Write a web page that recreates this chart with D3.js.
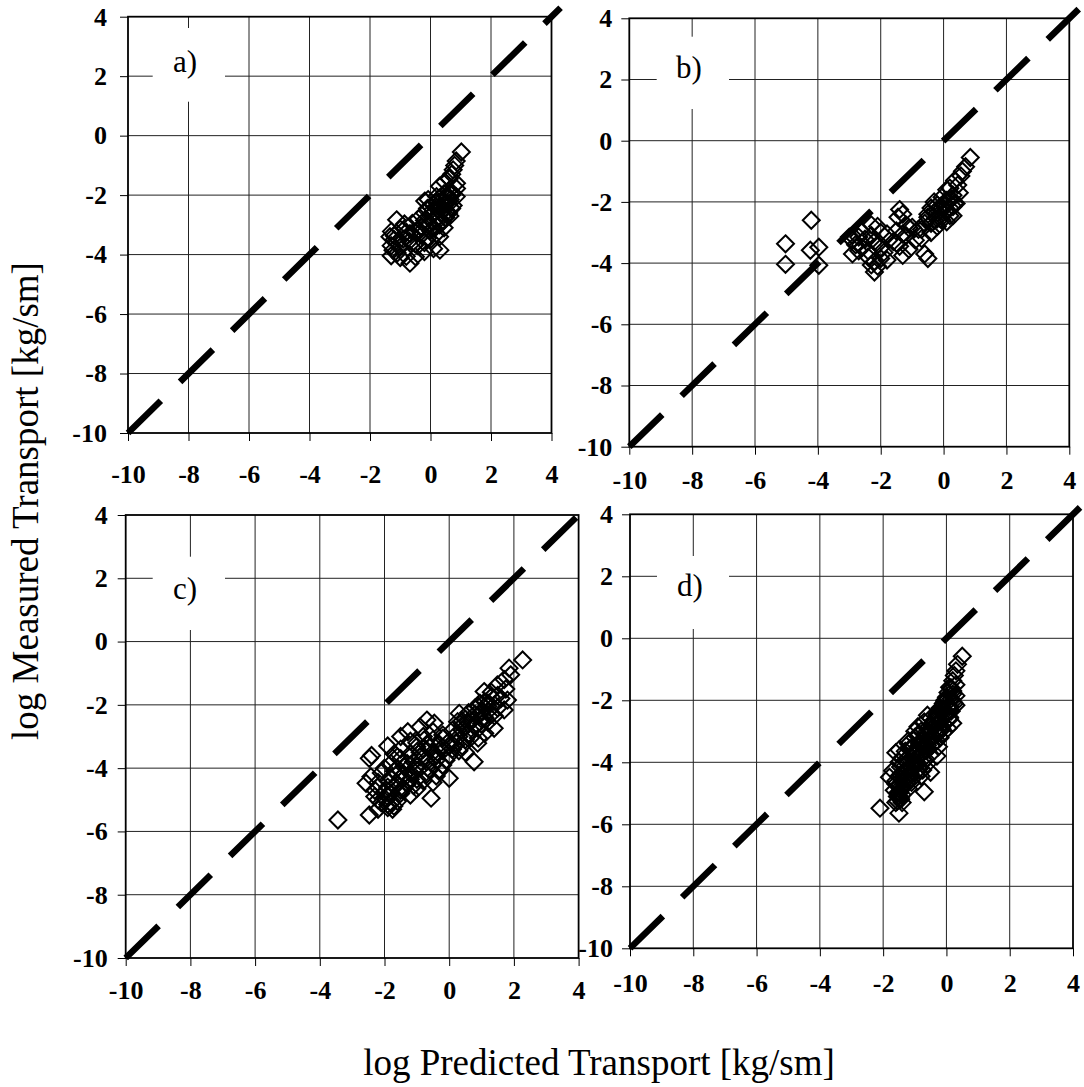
<!DOCTYPE html>
<html lang="en">
<head>
<meta charset="UTF-8">
<title>Measured vs predicted transport</title>
<style>
  body, html {
      margin: 0;
      padding: 0;
      background-color: #FFF;
  }
  svg {
      display: block;
      font-family: "Liberation Serif", "Times New Roman", serif;
  }
  .tick text {
      font-family: "Liberation Serif", "Times New Roman", serif;
      font-weight: bold;
      font-size: 26px;
      fill: #000;
  }
  .tick line {
      stroke: #000;
  }
</style>
</head>
<body>

<svg id="chart" width="1084" height="1087"></svg>

<script src="https://d3js.org/d3.v7.min.js"></script>

<script>
/* global d3 */

// axis ticks, both axes, all panels
var ticks = [-10, -8, -6, -4, -2, 0, 2, 4];
// the 1:1 line
var diagonal = [-10, 4.3];

// data set used in panels a) and b)
var measuredAB = [-0.55, -0.85, -1.0, -1.15, -1.3, -1.45, -1.55, -1.6, -1.7, -1.78,
  -1.85, -1.95, -2.0, -2.05, -2.1, -2.15, -2.2, -2.2, -2.25, -2.3,
  -2.35, -2.4, -2.45, -2.5, -2.55, -2.6, -2.6, -2.65, -2.7, -2.75,
  -2.8, -2.83, -2.9, -2.95, -2.97, -3.0, -3.05, -3.1, -3.1, -3.1,
  -3.15, -3.22, -3.25, -3.3, -3.3, -3.37, -3.4, -3.45, -3.48, -3.5,
  -3.55, -3.58, -3.6, -3.65, -3.7, -3.75, -3.8, -3.85, -3.85, -4.04,
  -4.06, -4.07, -4.1, -4.29,
  -1.9, -2.0, -2.05, -2.1, -2.15, -2.25, -2.3, -2.35, -2.4, -2.45,
  -2.5, -2.55, -2.6, -2.7, -2.75, -2.8, -2.85, -2.9, -3.0, -3.05,
  -3.15, -3.2, -3.25, -3.35, -3.4, -3.5, -3.6, -3.7, -3.9, -3.95];
var predictedA = [1.02, 0.85, 0.8, 0.75, 0.7, 0.62, 0.47, 0.86, 0.3, 0.86,
  0.6, 0.45, 0.7, 0.2, 0.55, -0.08, 0.35, -0.19, 0.5, 0.1,
  0.75, 0.3, -0.1, 0.4, 0.15, 0.6, -0.2, 0.05, 0.64, 0.25,
  -0.4, -1.12, 0.1, -0.6, -0.86, 0.3, -0.3, 0.45, 0.1, -0.3,
  -1.0, -1.29, -0.5, -0.68, 0.2, -1.2, -1.34, -0.1, -0.9, 0.0,
  -0.7, -1.1, -0.2, -0.5, -0.42, -1.0, 0.1, -1.24, 0.31, -1.3,
  -0.8, -0.5, -1.0, -0.68,
  0.7, 0.55, 0.85, 0.3, 0.65, 0.2, 0.6, 0.45, 0.0, 0.7,
  0.25, 0.55, 0.35, 0.0, 0.5, 0.3, -0.2, 0.4, -0.1, 0.2,
  -0.4, 0.0, -0.8, -0.3, 0.3, -1.2, -0.6, -1.3, -0.2, -1.1];
var predictedB = [0.85, 0.7, 0.6, 0.55, 0.35, 0.45, 0.2, 0.1, 0.5, 0.3,
  -0.05, 0.1, -0.3, 0.35, 0.0, -0.1, 0.2, -0.4, -1.4, 0.05,
  -0.2, -1.3, 0.3, -0.5, -0.1, -4.21, -0.3, 0.1, -0.6, -1.2,
  -2.1, -1.0, -0.7, -1.5, -2.6, -0.4, -1.8, -2.9, -1.2, -2.3,
  -3.0, -2.5, -0.9, -1.6, -2.2, -5.03, -2.8, -1.4, -3.97, -2.0,
  -1.1, -4.24, -2.7, -1.9, -0.6, -1.3, -2.4, -2.0, -0.5, -5.03,
  -2.3, -3.97, -2.1, -2.2,
  0.25, 0.15, 0.4, -0.2, 0.3, -0.1, 0.1, -0.3, -0.5, 0.2,
  -1.45, -0.2, -0.05, -0.4, -2.3, -0.2, -1.1, -0.8, -2.0, -1.3,
  -2.7, -0.7, -2.9, -1.5, -2.1, -2.6, -2.4, -2.9, -1.8, -2.2];

// data set used in panels c) and d)
var measuredCD = [-0.58, -0.84, -1.05, -1.2, -1.37, -1.5, -1.58, -1.7, -1.75, -1.85,
  -1.9, -1.95, -2.0, -2.05, -2.1, -2.16, -2.2, -2.25, -2.27, -2.3,
  -2.35, -2.4, -2.45, -2.48, -2.5, -2.53, -2.58, -2.6, -2.65, -2.7,
  -2.74, -2.8, -2.85, -2.9, -2.95, -3.0, -3.0, -3.05, -3.1, -3.15,
  -3.2, -3.21, -3.25, -3.3, -3.32, -3.35, -3.4, -3.4, -3.45, -3.5,
  -3.5, -3.55, -3.6, -3.64, -3.69, -3.7, -3.75, -3.8, -3.8, -3.85,
  -3.9, -3.95, -4.0, -4.0, -4.05, -4.1, -4.15, -4.2, -4.27, -4.3,
  -4.32, -4.35, -4.4, -4.45, -4.48, -4.5, -4.55, -4.6, -4.65, -4.7,
  -4.75, -4.8, -4.85, -4.9, -4.95, -5.0, -5.05, -5.1, -5.2, -5.25,
  -5.3, -5.48, -5.64,
  -1.6, -1.8, -1.95, -2.05, -2.1, -2.2, -2.3, -2.35, -2.45, -2.5,
  -2.55, -2.6, -2.7, -2.75, -2.8, -2.85, -2.9, -2.95, -3.0, -3.05,
  -3.1, -3.15, -3.2, -3.25, -3.3, -3.35, -3.4, -3.45, -3.5, -3.55,
  -3.6, -3.65, -3.7, -3.75, -3.8, -3.85, -3.9, -3.95, -4.0, -4.05,
  -4.1, -4.15, -4.2, -4.25, -4.3, -4.35, -4.4, -4.45, -4.5, -4.55,
  -4.6, -4.65, -4.7, -4.8, -4.9, -5.0, -5.1, -5.15, -5.3, -3.0,
  -3.3, -3.6];
var predictedC = [2.27, 1.85, 1.9, 1.7, 1.49, 1.75, 1.08, 1.5, 1.3, 1.8,
  1.1, 0.95, 1.4, 1.2, 0.8, 1.7, 1.0, 0.6, 0.31, 1.3,
  0.9, 1.1, 0.5, -0.69, 0.7, 0.26, -0.46, 1.0, 0.4, 0.8,
  1.39, 0.1, -1.28, 0.6, -0.2, 0.3, -0.8, 0.9, -0.5, 0.0,
  -1.0, 0.88, -0.3, 0.4, -1.0, -0.6, -1.5, 0.1, -0.2, -0.9,
  0.5, -1.2, -0.4, -1.6, -2.47, -0.7, -0.1, 0.77, -1.1, -1.8,
  -0.5, -1.4, -0.9, -2.0, -0.3, -1.7, -1.2, -0.7, -2.42, -1.5,
  0.0, -1.0, -1.9, -0.5, -2.57, -1.3, -1.7, -2.2, -1.0, -1.5,
  -2.0, -1.8, -1.2, -2.3, -0.56, -1.95, -1.6, -2.1, -1.71, -1.9,
  -2.2, -2.47, -3.44,
  1.3, 1.6, 1.2, 0.9, 1.5, 1.2, 0.8, 1.4, 1.0, 0.4,
  1.2, 0.6, -0.9, 0.9, 0.4, -0.5, 1.1, 0.2, 0.7, -0.2,
  0.5, -1.2, 0.2, -0.7, 0.0, -0.2, -0.8, 0.3, -0.5, -1.7,
  0.0, -0.9, -1.5, -0.4, -0.7, -1.3, -0.2, -1.0, -1.6, -0.6,
  -1.1, -2.1, -1.4, -0.4, -1.8, -1.2, -0.8, -2.2, -1.6, -1.1,
  -1.9, -1.4, -2.3, -1.5, -1.9, -2.2, -1.8, -1.9, -1.75, -1.5,
  -1.9, -2.4];
var predictedD = [0.5, 0.35, 0.3, 0.25, 0.2, 0.3, 0.1, 0.2, 0.05, 0.3,
  0.0, 0.15, -0.05, 0.2, -0.1, 0.3, 0.05, -0.2, -0.1, 0.1,
  -0.15, 0.0, -0.3, -0.6, -0.05, -0.25, -0.5, 0.1, -0.4, -0.2,
  0.2, -0.35, -0.9, -0.15, -0.5, -0.3, -0.8, -0.1, -0.6, -0.45,
  -1.0, -0.2, -0.5, -0.3, -0.8, -0.7, -1.2, -0.4, -0.6, -0.9,
  -0.25, -1.1, -0.7, -1.3, -1.6, -0.8, -0.5, -0.3, -1.0, -1.4,
  -0.75, -1.2, -0.95, -1.5, -0.6, -1.3, -1.1, -0.85, -1.7, -1.25,
  -0.5, -1.0, -1.45, -0.8, -1.8, -1.2, -1.35, -1.6, -1.1, -1.3,
  -1.5, -1.45, -1.2, -1.65, -0.7, -1.5, -1.4, -1.55, -1.45, -1.55,
  -1.6, -2.1, -1.5,
  0.15, 0.2, 0.05, -0.05, 0.25, 0.1, -0.2, 0.15, 0.0, -0.3,
  0.1, -0.25, -0.7, -0.1, -0.45, -0.55, 0.05, -0.35, -0.2, -0.65,
  -0.3, -0.9, -0.5, -0.75, -0.55, -0.6, -0.85, -0.45, -0.7, -1.15,
  -0.6, -0.95, -1.05, -0.8, -0.85, -1.1, -0.65, -1.0, -1.25, -0.9,
  -1.05, -1.45, -1.2, -0.75, -1.35, -1.15, -0.95, -1.5, -1.3, -1.1,
  -1.4, -1.25, -1.6, -1.35, -1.45, -1.55, -1.5, -1.45, -1.4, -1.0,
  -1.2, -1.5];

var svg = d3.select("#chart");

// page layout of the four panels (pixels)
var panels = [
  {label: "a)", xs: predictedA, ys: measuredAB,
    left: 128, right: 551.5, top: 16.7, bottom: 433,
    box: [152.7, 28, 225, 101.7], text: [185, 72], xpad: 24, ypad: 13},
  {label: "b)", xs: predictedB, ys: measuredAB,
    left: 629.3, right: 1069.3, top: 18.3, bottom: 446.7,
    box: [656.7, 36.7, 729, 109], text: [689, 78], xpad: 16, ypad: 9},
  {label: "c)", xs: predictedC, ys: measuredCD,
    left: 125.7, right: 578.6, top: 515, bottom: 958,
    box: [152.7, 556.7, 225, 630], text: [185, 599], xpad: 15, ypad: 10},
  {label: "d)", xs: predictedD, ys: measuredCD,
    left: 630, right: 1073, top: 514.3, bottom: 948.3,
    box: [657, 556, 729, 629], text: [690, 596], xpad: 17, ypad: 9}
];

var diamond = function (r) {
  return "M0," + (-r) + "L" + r + ",0L0," + r + "L" + (-r) + ",0Z";
};

panels.forEach(drawPanel);

function drawPanel(p) {
  var x = d3.scaleLinear().domain([-10, 4]).range([p.left, p.right]),
    y = d3.scaleLinear().domain([-10, 4]).range([p.bottom, p.top]),
    g = svg.append("g");

  var inner = ticks.slice(1, -1);

  // grid
  g.append("g").selectAll("line").data(inner).enter().append("line")
    .attr("x1", function (d) { return x(d); })
    .attr("x2", function (d) { return x(d); })
    .attr("y1", p.top).attr("y2", p.bottom)
    .attr("stroke", "#222").attr("stroke-width", 1);
  g.append("g").selectAll("line").data(inner).enter().append("line")
    .attr("y1", function (d) { return y(d); })
    .attr("y2", function (d) { return y(d); })
    .attr("x1", p.left).attr("x2", p.right)
    .attr("stroke", "#222").attr("stroke-width", 1);

  // panel letter sits in a white box over the grid
  g.append("rect")
    .attr("x", p.box[0]).attr("y", p.box[1])
    .attr("width", p.box[2] - p.box[0]).attr("height", p.box[3] - p.box[1])
    .attr("fill", "#FFF");
  g.append("text")
    .attr("x", p.text[0]).attr("y", p.text[1])
    .attr("text-anchor", "middle")
    .attr("font-size", 31)
    .text(p.label);

  // axes, plain hyphen for the minus sign
  var fmt = function (d) { return String(d); };
  var ax = g.append("g")
    .attr("transform", "translate(0," + p.bottom + ")")
    .call(d3.axisBottom(x).tickValues(ticks).tickFormat(fmt).tickSize(8).tickPadding(p.xpad));
  ax.select(".domain").remove();
  var ay = g.append("g")
    .attr("transform", "translate(" + p.left + ",0)")
    .call(d3.axisLeft(y).tickValues(ticks).tickFormat(fmt).tickSize(8).tickPadding(p.ypad));
  ay.select(".domain").remove();
  ax.attr("font-family", null).attr("font-size", null);
  ay.attr("font-family", null).attr("font-size", null);

  // frame
  g.append("rect")
    .attr("x", p.left).attr("y", p.top)
    .attr("width", p.right - p.left).attr("height", p.bottom - p.top)
    .attr("fill", "none").attr("stroke", "#000").attr("stroke-width", 1.8);

  // 1:1 line
  g.append("line")
    .attr("x1", x(diagonal[0])).attr("y1", y(diagonal[0]))
    .attr("x2", x(diagonal[1])).attr("y2", y(diagonal[1]))
    .attr("stroke", "#000").attr("stroke-width", 6.5)
    .attr("stroke-dasharray", "46,27");

  // data
  g.append("g").selectAll("path").data(p.xs).enter().append("path")
    .attr("transform", function (d, i) {
      return "translate(" + x(d) + "," + y(p.ys[i]) + ")";
    })
    .attr("d", diamond(8.5))
    .attr("fill", "none").attr("stroke", "#000").attr("stroke-width", 2);
}

// axis titles
svg.append("text")
  .attr("transform", "translate(38,501) rotate(-90)")
  .attr("text-anchor", "middle")
  .attr("font-size", 37)
  .text("log Measured Transport [kg/sm]");
svg.append("text")
  .attr("x", 599).attr("y", 1075)
  .attr("text-anchor", "middle")
  .attr("font-size", 37)
  .text("log Predicted Transport [kg/sm]");
</script>

</body>
</html>
